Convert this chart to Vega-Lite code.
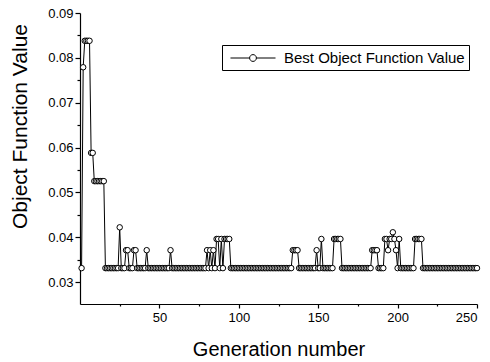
{
  "$schema": "https://vega.github.io/schema/vega-lite/v6.json",
  "width": 397,
  "height": 291,
  "autosize": "none",
  "padding": {"left": 80, "top": 13, "right": 13, "bottom": 58},
  "background": "white",
  "config": {
    "view": {"stroke": null},
    "font": "Liberation Sans",
    "axis": {"domainColor": "black", "tickColor": "black", "labelColor": "black", "titleColor": "black", "grid": false, "labelFont": "Liberation Sans", "titleFont": "Liberation Sans", "titleFontWeight": "normal", "domainWidth": 1.2, "tickWidth": 1.2}
  },
  "data": {"values": [
    {"g":1,"v":0.0331},{"g":2,"v":0.0779},{"g":3,"v":0.0838},{"g":4,"v":0.0838},{"g":5,"v":0.0838},{"g":6,"v":0.0838},{"g":7,"v":0.0588},{"g":8,"v":0.0588},{"g":9,"v":0.0525},{"g":10,"v":0.0525},
    {"g":11,"v":0.0525},{"g":12,"v":0.0525},{"g":13,"v":0.0525},{"g":14,"v":0.0525},{"g":15,"v":0.0525},{"g":16,"v":0.0331},{"g":17,"v":0.0331},{"g":18,"v":0.0331},{"g":19,"v":0.0331},{"g":20,"v":0.0331},
    {"g":21,"v":0.0331},{"g":22,"v":0.0331},{"g":23,"v":0.0331},{"g":24,"v":0.0331},{"g":25,"v":0.0422},{"g":26,"v":0.0331},{"g":27,"v":0.0331},{"g":28,"v":0.0331},{"g":29,"v":0.0371},{"g":30,"v":0.0371},
    {"g":31,"v":0.0331},{"g":32,"v":0.0331},{"g":33,"v":0.0331},{"g":34,"v":0.0371},{"g":35,"v":0.0371},{"g":36,"v":0.0331},{"g":37,"v":0.0331},{"g":38,"v":0.0331},{"g":39,"v":0.0331},{"g":40,"v":0.0331},
    {"g":41,"v":0.0331},{"g":42,"v":0.0371},{"g":43,"v":0.0331},{"g":44,"v":0.0331},{"g":45,"v":0.0331},{"g":46,"v":0.0331},{"g":47,"v":0.0331},{"g":48,"v":0.0331},{"g":49,"v":0.0331},{"g":50,"v":0.0331},
    {"g":51,"v":0.0331},{"g":52,"v":0.0331},{"g":53,"v":0.0331},{"g":54,"v":0.0331},{"g":55,"v":0.0331},{"g":56,"v":0.0331},{"g":57,"v":0.0371},{"g":58,"v":0.0331},{"g":59,"v":0.0331},{"g":60,"v":0.0331},
    {"g":61,"v":0.0331},{"g":62,"v":0.0331},{"g":63,"v":0.0331},{"g":64,"v":0.0331},{"g":65,"v":0.0331},{"g":66,"v":0.0331},{"g":67,"v":0.0331},{"g":68,"v":0.0331},{"g":69,"v":0.0331},{"g":70,"v":0.0331},
    {"g":71,"v":0.0331},{"g":72,"v":0.0331},{"g":73,"v":0.0331},{"g":74,"v":0.0331},{"g":75,"v":0.0331},{"g":76,"v":0.0331},{"g":77,"v":0.0331},{"g":78,"v":0.0331},{"g":79,"v":0.0331},{"g":80,"v":0.0371},
    {"g":81,"v":0.0331},{"g":82,"v":0.0371},{"g":83,"v":0.0331},{"g":84,"v":0.0371},{"g":85,"v":0.0331},{"g":86,"v":0.0396},{"g":87,"v":0.0396},{"g":88,"v":0.0331},{"g":89,"v":0.0396},{"g":90,"v":0.0331},
    {"g":91,"v":0.0396},{"g":92,"v":0.0396},{"g":93,"v":0.0396},{"g":94,"v":0.0396},{"g":95,"v":0.0331},{"g":96,"v":0.0331},{"g":97,"v":0.0331},{"g":98,"v":0.0331},{"g":99,"v":0.0331},{"g":100,"v":0.0331},
    {"g":101,"v":0.0331},{"g":102,"v":0.0331},{"g":103,"v":0.0331},{"g":104,"v":0.0331},{"g":105,"v":0.0331},{"g":106,"v":0.0331},{"g":107,"v":0.0331},{"g":108,"v":0.0331},{"g":109,"v":0.0331},{"g":110,"v":0.0331},
    {"g":111,"v":0.0331},{"g":112,"v":0.0331},{"g":113,"v":0.0331},{"g":114,"v":0.0331},{"g":115,"v":0.0331},{"g":116,"v":0.0331},{"g":117,"v":0.0331},{"g":118,"v":0.0331},{"g":119,"v":0.0331},{"g":120,"v":0.0331},
    {"g":121,"v":0.0331},{"g":122,"v":0.0331},{"g":123,"v":0.0331},{"g":124,"v":0.0331},{"g":125,"v":0.0331},{"g":126,"v":0.0331},{"g":127,"v":0.0331},{"g":128,"v":0.0331},{"g":129,"v":0.0331},{"g":130,"v":0.0331},
    {"g":131,"v":0.0331},{"g":132,"v":0.0331},{"g":133,"v":0.0331},{"g":134,"v":0.0371},{"g":135,"v":0.0371},{"g":136,"v":0.0371},{"g":137,"v":0.0371},{"g":138,"v":0.0331},{"g":139,"v":0.0331},{"g":140,"v":0.0331},
    {"g":141,"v":0.0331},{"g":142,"v":0.0331},{"g":143,"v":0.0331},{"g":144,"v":0.0331},{"g":145,"v":0.0331},{"g":146,"v":0.0331},{"g":147,"v":0.0331},{"g":148,"v":0.0331},{"g":149,"v":0.0371},{"g":150,"v":0.0331},
    {"g":151,"v":0.0331},{"g":152,"v":0.0396},{"g":153,"v":0.0331},{"g":154,"v":0.0331},{"g":155,"v":0.0331},{"g":156,"v":0.0331},{"g":157,"v":0.0331},{"g":158,"v":0.0331},{"g":159,"v":0.0331},{"g":160,"v":0.0396},
    {"g":161,"v":0.0396},{"g":162,"v":0.0396},{"g":163,"v":0.0396},{"g":164,"v":0.0396},{"g":165,"v":0.0331},{"g":166,"v":0.0331},{"g":167,"v":0.0331},{"g":168,"v":0.0331},{"g":169,"v":0.0331},{"g":170,"v":0.0331},
    {"g":171,"v":0.0331},{"g":172,"v":0.0331},{"g":173,"v":0.0331},{"g":174,"v":0.0331},{"g":175,"v":0.0331},{"g":176,"v":0.0331},{"g":177,"v":0.0331},{"g":178,"v":0.0331},{"g":179,"v":0.0331},{"g":180,"v":0.0331},
    {"g":181,"v":0.0331},{"g":182,"v":0.0331},{"g":183,"v":0.0331},{"g":184,"v":0.0371},{"g":185,"v":0.0371},{"g":186,"v":0.0371},{"g":187,"v":0.0371},{"g":188,"v":0.0331},{"g":189,"v":0.0331},{"g":190,"v":0.0331},
    {"g":191,"v":0.0331},{"g":192,"v":0.0396},{"g":193,"v":0.0396},{"g":194,"v":0.0371},{"g":195,"v":0.0396},{"g":196,"v":0.0396},{"g":197,"v":0.0411},{"g":198,"v":0.0396},{"g":199,"v":0.0371},{"g":200,"v":0.0331},
    {"g":201,"v":0.0396},{"g":202,"v":0.0331},{"g":203,"v":0.0331},{"g":204,"v":0.0331},{"g":205,"v":0.0331},{"g":206,"v":0.0331},{"g":207,"v":0.0331},{"g":208,"v":0.0331},{"g":209,"v":0.0331},{"g":210,"v":0.0331},
    {"g":211,"v":0.0396},{"g":212,"v":0.0396},{"g":213,"v":0.0396},{"g":214,"v":0.0396},{"g":215,"v":0.0396},{"g":216,"v":0.0331},{"g":217,"v":0.0331},{"g":218,"v":0.0331},{"g":219,"v":0.0331},{"g":220,"v":0.0331},
    {"g":221,"v":0.0331},{"g":222,"v":0.0331},{"g":223,"v":0.0331},{"g":224,"v":0.0331},{"g":225,"v":0.0331},{"g":226,"v":0.0331},{"g":227,"v":0.0331},{"g":228,"v":0.0331},{"g":229,"v":0.0331},{"g":230,"v":0.0331},
    {"g":231,"v":0.0331},{"g":232,"v":0.0331},{"g":233,"v":0.0331},{"g":234,"v":0.0331},{"g":235,"v":0.0331},{"g":236,"v":0.0331},{"g":237,"v":0.0331},{"g":238,"v":0.0331},{"g":239,"v":0.0331},{"g":240,"v":0.0331},
    {"g":241,"v":0.0331},{"g":242,"v":0.0331},{"g":243,"v":0.0331},{"g":244,"v":0.0331},{"g":245,"v":0.0331},{"g":246,"v":0.0331},{"g":247,"v":0.0331},{"g":248,"v":0.0331},{"g":249,"v":0.0331},{"g":250,"v":0.0331}
  ]},
  "resolve": {"axis": {"x": "independent", "y": "independent"}},
  "layer": [
    {
      "mark": {"type": "line", "strokeWidth": 1},
      "encoding": {
        "x": {"field": "g", "type": "quantitative", "scale": {"domain": [0, 250], "nice": false, "zero": false},
          "axis": {"orient": "bottom", "values": [50, 100, 150, 200, 250], "title": "Generation number", "titleFontSize": 20, "labelFontSize": 13, "tickSize": 4, "labelPadding": 3, "titlePadding": 15}},
        "y": {"field": "v", "type": "quantitative", "scale": {"domain": [0.0251, 0.09], "nice": false, "zero": false},
          "axis": {"orient": "left", "values": [0.03, 0.04, 0.05, 0.06, 0.07, 0.08, 0.09], "format": ".2f", "title": "Object Function Value", "titleFontSize": 21, "labelFontSize": 13, "tickSize": 5, "labelPadding": 2, "titlePadding": 17, "titleY": 113}},
        "color": {"datum": "Best Object Function Value", "type": "nominal",
          "scale": {"range": ["black"]},
          "legend": {"title": null, "orient": "none", "legendX": 142, "legendY": 32, "strokeColor": "black", "padding": 4,
            "labelFontSize": 15, "labelFont": "Liberation Sans", "labelColor": "black", "labelOffset": 22, "labelLimit": 400,
            "symbolOffset": 18,
            "symbolType": "M-2.65,0H-0.4M0.4,0H2.65M0.4,0A0.4,0.4 0 1 1 -0.4,0A0.4,0.4 0 1 1 0.4,0",
            "symbolSize": 289, "symbolStrokeWidth": 1, "symbolFillColor": "white", "symbolStrokeColor": "black"}}
      }
    },
    {
      "mark": {"type": "point", "shape": "circle", "size": 30, "filled": true, "fill": "white", "stroke": "black", "strokeWidth": 1, "opacity": 1},
      "encoding": {
        "x": {"field": "g", "type": "quantitative",
          "axis": {"orient": "bottom", "values": [25, 75, 125, 175, 225], "labels": false, "domain": false, "title": null, "tickSize": 2}},
        "y": {"field": "v", "type": "quantitative",
          "axis": {"orient": "left", "values": [0.035, 0.045, 0.055, 0.065, 0.075, 0.085], "labels": false, "domain": false, "title": null, "tickSize": 3}}
      }
    }
  ]
}
